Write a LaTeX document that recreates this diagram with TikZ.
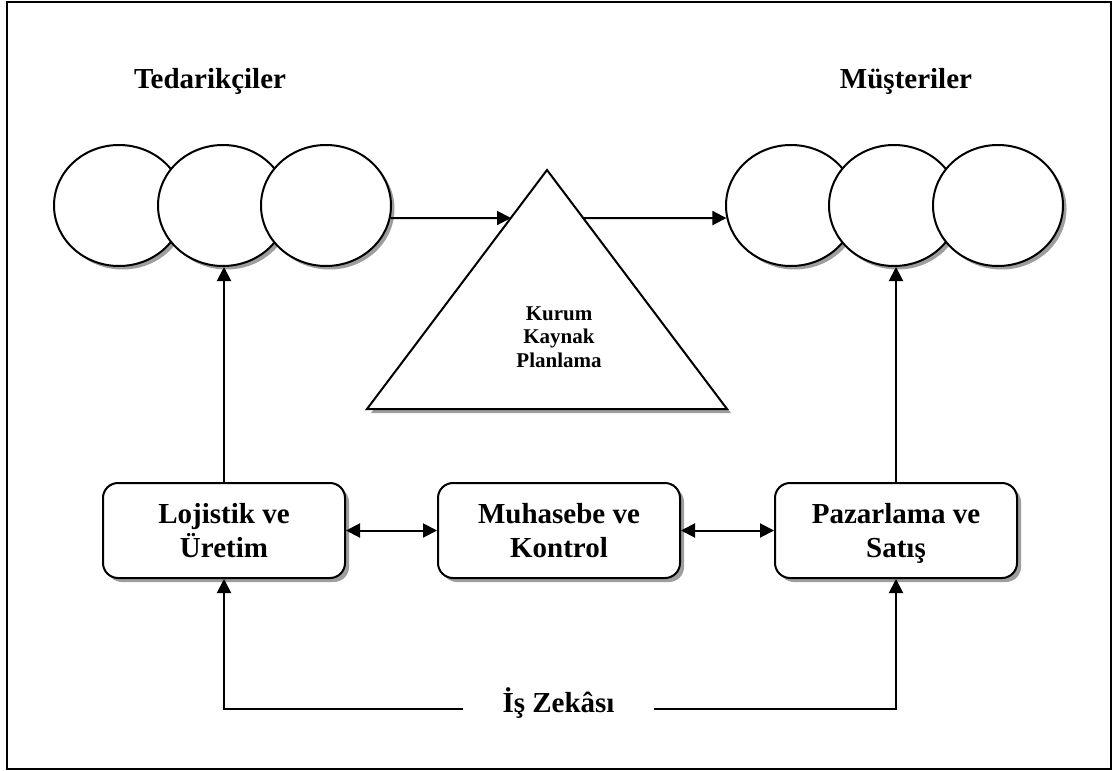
\documentclass[tikz,border=0pt]{standalone}
\usepackage{fontspec}
\setmainfont{Liberation Serif}
\usetikzlibrary{shapes.geometric,shadows,arrows.meta}

% fixed line height so every box sets its two lines on the same baselines
\newcommand\unitstrut{\rule[-7.5pt]{0pt}{34pt}}

\tikzset{
  outline/.style={line width=2pt, draw=black},
  shade3/.style={drop shadow={shadow xshift=3.5pt, shadow yshift=-3.5pt, fill=black!38, opacity=1}},
  party/.style={outline, ellipse, fill=white, minimum width=130pt, minimum height=121pt, inner sep=0pt, shade3},
  unit/.style={outline, rectangle, rounded corners=15pt, fill=white, minimum width=242pt,
    minimum height=95pt, inner sep=0pt, align=center, font=\bfseries\fontsize{29}{34}\selectfont,
    drop shadow={shadow xshift=4pt, shadow yshift=-4pt, fill=black!38, opacity=1}},
  heading/.style={font=\bfseries\fontsize{29}{34}\selectfont, anchor=base, inner sep=0pt},
  arr/.style={line width=2pt, -{Triangle[length=14pt, width=14pt]}},
  biarr/.style={line width=2pt, {Triangle[length=14pt, width=14pt]}-{Triangle[length=14pt, width=14pt]}}
}

\begin{document}
\begin{tikzpicture}[x=1pt, y=-1pt]
  \useasboundingbox (0,0) rectangle (1114,771);
  \fill[white] (0,0) rectangle (1114,771);
  \draw[line width=2pt] (7,2) rectangle (1111,769);

  % headings
  \node[heading] (sup) at (210,88) {Tedarikçiler};
  \node[heading] (cus) at (906,88) {Müşteriler};

  % supplier and customer groups
  \node[party] (c1) at (119,205.5) {};
  \node[party] (c2) at (223,205.5) {};
  \node[party] (c3) at (326,205.5) {};
  \node[party] (m1) at (791,205.5) {};
  \node[party] (m2) at (894,205.5) {};
  \node[party] (m3) at (998,205.5) {};

  % enterprise resource planning triangle
  \path[outline, fill=white, drop shadow={shadow xshift=4pt, shadow yshift=-4pt, fill=black!38, opacity=1}]
    (547,170) -- (727,409) -- (367,409) -- cycle;
  \coordinate (tin) at (511,218);
  \coordinate (tout) at (583,218);
  \node[align=center, inner sep=0pt, font=\bfseries\fontsize{21}{23.5}\selectfont, anchor=base]
    (kkp) at (559,367) {Kurum\\Kaynak\\Planlama};

  \draw[arr] (c3.-11) -- (tin);
  \draw[arr] (tout) -- (m1.191);

  % business units
  \node[unit] (log) at (224,530.5) {Lojistik ve\unitstrut\\Üretim\unitstrut};
  \node[unit] (muh) at (559,530.5) {Muhasebe ve\unitstrut\\Kontrol\unitstrut};
  \node[unit] (paz) at (896,530.5) {Pazarlama ve\unitstrut\\Satış\unitstrut};

  \draw[biarr] (log.east) -- (muh.west);
  \draw[biarr] (muh.east) -- (paz.west);
  \draw[arr] (log.north) -- (log.north |- c2.south);
  \draw[arr] (paz.north) -- (paz.north |- m2.south);

  % business intelligence feeding both ends
  \node[heading, inner xsep=39pt] (bi) at (558.5,712) {İş Zekâsı};
  \draw[arr] ([yshift=3pt]bi.base west) -| (log.south);
  \draw[arr] ([yshift=3pt]bi.base east) -| (paz.south);
\end{tikzpicture}
\end{document}
